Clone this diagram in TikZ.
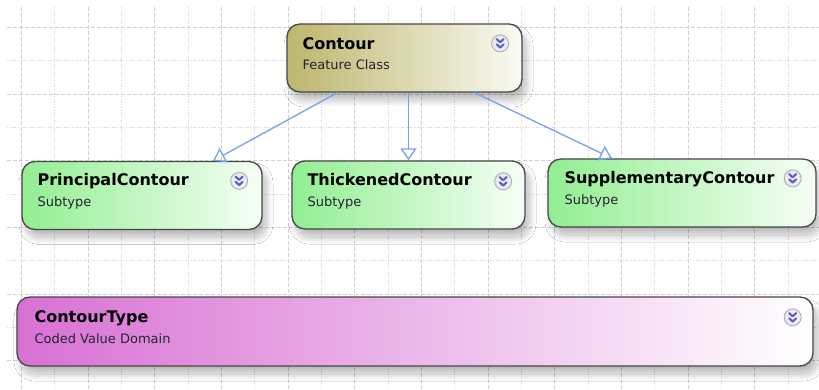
\documentclass[tikz,border=0pt]{standalone}
\usepackage{fontspec}
\setmainfont{DejaVu Sans}
\usetikzlibrary{calc,arrows.meta,shadows.blur}

\definecolor{gridmajor}{RGB}{208,208,208}
\definecolor{gridminor}{RGB}{218,218,218}
\definecolor{boxline}{RGB}{72,72,72}
\definecolor{classleft}{RGB}{189,182,108}
\definecolor{classright}{RGB}{250,250,244}
\definecolor{subleft}{RGB}{146,238,146}
\definecolor{subright}{RGB}{246,255,246}
\definecolor{domleft}{RGB}{216,112,212}
\definecolor{domright}{RGB}{255,255,255}
\definecolor{linkblue}{RGB}{118,160,240}
\definecolor{btnring}{RGB}{175,175,185}
\definecolor{btnfill}{RGB}{228,228,236}
\definecolor{btnchev}{RGB}{96,96,200}
\definecolor{subtext}{RGB}{36,36,48}

\tikzset{
  majorgrid/.style={draw=gridmajor, line width=0.9pt, dash pattern=on 4pt off 2pt},
  minorgrid/.style={draw=gridminor, line width=0.9pt, dash pattern=on 1.3pt off 1.4pt},
  boxbase/.style={rectangle, rounded corners=13pt, draw=boxline, line width=1.3pt,
    inner sep=0pt, minimum height=68pt,
    blur shadow={shadow xshift=4pt, shadow yshift=-8pt, shadow blur radius=7pt,
      shadow blur steps=24, shadow opacity=28}},
  classbox/.style={boxbase, left color=classleft, right color=classright},
  subbox/.style={boxbase, left color=subleft, right color=subright},
  dombox/.style={boxbase, left color=domleft, right color=domright},
  boxtitle/.style={anchor=base west, inner sep=0pt, font=\fontsize{16}{18}\selectfont\bfseries},
  boxkind/.style={anchor=base west, inner sep=0pt, text=subtext, font=\fontsize{13}{15}\selectfont},
  genlink/.style={draw=linkblue, line width=1.3pt,
    -{Triangle[open, length=12pt, width=16pt, line width=1.3pt]}},
  chevron/.style={draw=btnchev, line width=2.2pt, line cap=round, line join=round},
  expander/.pic={
    \draw[btnring, line width=0.9pt, inner color=white, outer color=btnfill] (0,0) circle[radius=8.5pt];
    \draw[chevron] (-3.4,-4.2) -- (0,-1) -- (3.4,-4.2);
    \draw[chevron] (-3.4,1) -- (0,4.2) -- (3.4,1);
  }
}

\begin{document}
\begin{tikzpicture}[x=1pt, y=-1pt]
  \useasboundingbox (0,0) rectangle (819,390);
  \fill[white] (0,0) rectangle (819,390);

  % background grid: dashed and dotted lines alternate
  \foreach \k in {0,2,...,22}
    \draw[majorgrid] ({21.5+33.333*\k},7) -- ({21.5+33.333*\k},390);
  \foreach \k in {1,3,...,23}
    \draw[minorgrid] ({21.5+33.333*\k},7) -- ({21.5+33.333*\k},390);
  \foreach \k in {0,2,...,10}
    \draw[majorgrid] (7,{27.5+33.333*\k}) -- (819,{27.5+33.333*\k});
  \foreach \k in {1,3,...,9}
    \draw[minorgrid] (7,{27.5+33.333*\k}) -- (819,{27.5+33.333*\k});

  % feature class
  \node[classbox, minimum width=235pt] (contour) at (404.5,58) {};
  \node[boxtitle] (contourname) at ($(contour.north west)+(16,26)$) {Contour};
  \node[boxkind]  (contourkind) at ($(contour.north west)+(16,46)$) {Feature Class};
  \pic (contourbtn) at ($(contour.north east)+(-22.5,20)$) {expander};

  % subtypes
  \node[subbox, minimum width=240pt] (principal) at (142,195.5) {};
  \node[boxtitle] (principalname) at ($(principal.north west)+(16,25)$) {PrincipalContour};
  \node[boxkind]  (principalkind) at ($(principal.north west)+(16,46)$) {Subtype};
  \pic (principalbtn) at ($(principal.north east)+(-23.5,20)$) {expander};

  \node[subbox, minimum width=233pt] (thickened) at (408.5,195) {};
  \node[boxtitle] (thickenedname) at ($(thickened.north west)+(16,25)$) {ThickenedContour};
  \node[boxkind]  (thickenedkind) at ($(thickened.north west)+(16,46)$) {Subtype};
  \pic (thickenedbtn) at ($(thickened.north east)+(-22.5,21)$) {expander};

  \node[subbox, minimum width=268pt] (supplementary) at (682,193) {};
  \node[boxtitle] (supplementaryname) at ($(supplementary.north west)+(17,25)$) {SupplementaryContour};
  \node[boxkind]  (supplementarykind) at ($(supplementary.north west)+(17,46)$) {Subtype};
  \pic (supplementarybtn) at ($(supplementary.north east)+(-24,20)$) {expander};

  % coded value domain
  \node[dombox, minimum width=796pt, minimum height=69pt] (contourtype) at (415,331.5) {};
  \node[boxtitle] (contourtypename) at ($(contourtype.north west)+(18,26)$) {ContourType};
  \node[boxkind]  (contourtypekind) at ($(contourtype.north west)+(18,47)$) {Coded Value Domain};
  \pic (contourtypebtn) at ($(contourtype.north east)+(-21,21)$) {expander};

  % generalisation links
  \draw[genlink] ([xshift=-67pt]contour.south) -- ([xshift=71pt]principal.north);
  \draw[genlink] (thickened.north |- contour.south) -- (thickened.north);
  \draw[genlink] ([xshift=70pt]contour.south) -- ([xshift=-70pt]supplementary.north);
\end{tikzpicture}
\end{document}
